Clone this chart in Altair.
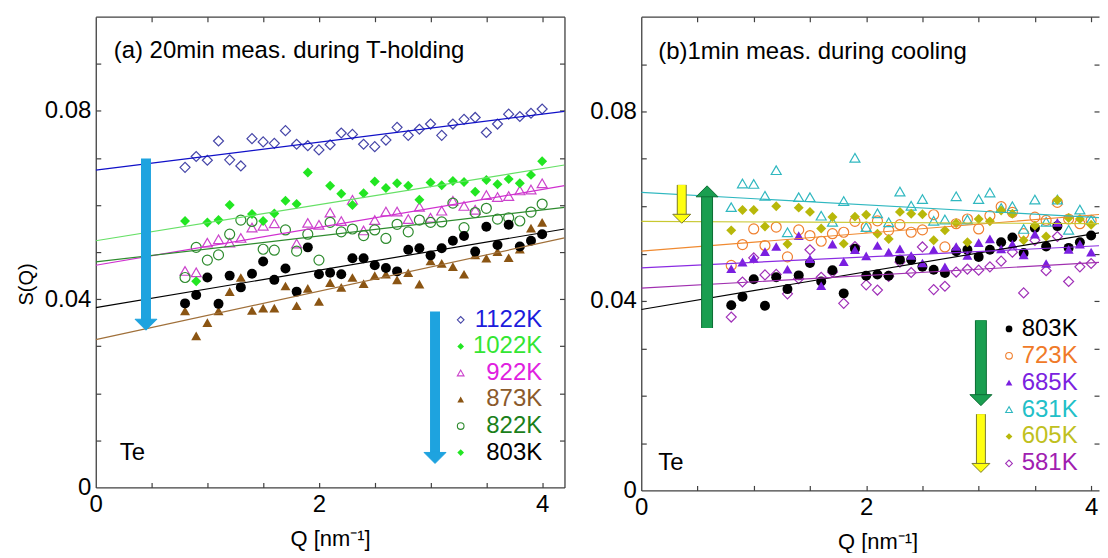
import math
import altair as alt
import pandas as pd

FONT = "Liberation Sans"
AX = "#404040"

# ---------------- data ----------------
Q = [0.8, 0.9, 1.0, 1.1, 1.2, 1.3, 1.4, 1.5, 1.6, 1.7, 1.8, 1.9, 2.0,
     2.1, 2.2, 2.3, 2.4, 2.5, 2.6, 2.7, 2.8, 2.9, 3.0, 3.1, 3.2, 3.3,
     3.4, 3.5, 3.6, 3.7, 3.8, 3.9, 4.0]

s1122 = [0.0680, 0.0703, 0.0695, 0.0736, 0.0696, 0.0683, 0.0741, 0.0734, 0.0731, 0.0758, 0.0729, 0.0726, 0.0717,
         0.0728, 0.0753, 0.0750, 0.0729, 0.0724, 0.0738, 0.0765, 0.0748, 0.0761, 0.0772, 0.0748, 0.0772, 0.0782,
         0.0786, 0.0754, 0.0772, 0.0793, 0.0788, 0.0795, 0.0804]
s1022 = [0.0566, 0.0438, 0.0563, 0.0568, 0.0600, None, 0.0581, 0.0566, 0.0582, 0.0609, 0.0602, 0.0669, None,
         0.0641, 0.0624, 0.0600, 0.0625, 0.0650, 0.0636, 0.0646, 0.0641, 0.0611, 0.0648, 0.0642, 0.0651, 0.0649,
         0.0628, 0.0653, 0.0644, 0.0655, 0.0646, 0.0664, 0.0693]
s922 = [0.0460, 0.0457, 0.0520, 0.0527, 0.0520, 0.0530, 0.0552, 0.0556, 0.0561, None, 0.0518, 0.0562, 0.0558,
        0.0584, 0.0566, 0.0611, 0.0546, 0.0568, 0.0586, 0.0586, 0.0570, 0.0596, 0.0573, 0.0588, 0.0609, 0.0598,
        0.0590, 0.0621, 0.0617, 0.0619, 0.0631, 0.0633, 0.0646]
s873 = [0.0375, 0.0322, 0.0350, 0.0375, 0.0416, 0.0446, 0.0376, 0.0381, 0.0381, 0.0428, 0.0386, 0.0423, 0.0395,
        0.0435, 0.0425, 0.0446, 0.0433, 0.0450, 0.0453, 0.0441, 0.0456, 0.0432, 0.0481, 0.0476, 0.0469, 0.0453,
        0.0494, 0.0487, 0.0501, 0.0488, 0.0506, 0.0551, 0.0563]
s822 = [0.0446, 0.0510, 0.0483, 0.0494, 0.0538, 0.0568, 0.0565, 0.0506, 0.0504, 0.0547, 0.0502, 0.0538, 0.0483,
        0.0563, 0.0543, 0.0549, 0.0535, 0.0547, 0.0529, 0.0559, 0.0543, 0.0568, 0.0563, 0.0564, 0.0604, 0.0552,
        0.0584, 0.0593, 0.0570, 0.0573, 0.0566, 0.0585, 0.0602]
s803 = [0.0391, 0.0409, 0.0446, 0.0390, 0.0450, 0.0425, 0.0454, 0.0480, 0.0441, 0.0465, 0.0416, 0.0510, 0.0453,
        0.0456, 0.0453, 0.0487, 0.0487, 0.0472, 0.0466, 0.0459, 0.0505, 0.0508, 0.0493, 0.0508, 0.0524, 0.0534,
        0.0501, 0.0554, 0.0515, 0.0558, 0.0512, 0.0524, 0.0538]
s723 = [0.0475, 0.0519, 0.0552, 0.0517, 0.0556, 0.0493, 0.0550, 0.0538, 0.0526, 0.0542, 0.0545, 0.0568, 0.0556,
        0.0569, 0.0549, 0.0561, 0.0545, 0.0550, 0.0582, 0.0514, 0.0563, 0.0573, 0.0552, 0.0580, 0.0599, 0.0587,
        0.0542, 0.0577, 0.0570, 0.0608, 0.0573, 0.0563, 0.0570]
s685 = [0.0468, 0.0482, 0.0490, 0.0504, 0.0515, 0.0467, 0.0538, 0.0489, 0.0432, 0.0520, 0.0483, 0.0508, 0.0495,
        0.0517, 0.0503, 0.0510, 0.0496, 0.0480, 0.0508, 0.0472, 0.0515, 0.0496, 0.0523, 0.0531, 0.0510, 0.0520,
        0.0497, 0.0541, 0.0479, 0.0566, 0.0509, 0.0520, 0.0503]
s631 = [0.0598, 0.0648, 0.0647, 0.0622, 0.0676, 0.0545, 0.0619, 0.0619, 0.0580, 0.0567, 0.0611, 0.0702, 0.0556,
        0.0585, 0.0566, 0.0631, 0.0601, 0.0615, 0.0569, 0.0572, 0.0621, 0.0572, 0.0615, 0.0629, 0.0596, 0.0600,
        0.0552, 0.0614, 0.0567, 0.0614, 0.0550, 0.0593, 0.0571]
s605 = [0.0549, 0.0592, 0.0592, 0.0557, 0.0600, 0.0520, 0.0597, 0.0588, 0.0553, 0.0577, 0.0521, 0.0578, 0.0582,
        0.0542, 0.0531, 0.0588, 0.0584, 0.0583, 0.0528, 0.0549, 0.0564, 0.0524, 0.0573, 0.0568, 0.0591, 0.0584,
        0.0528, 0.0559, 0.0536, 0.0613, 0.0575, 0.0573, 0.0561]
s581 = [0.0366, 0.0440, 0.0491, 0.0455, 0.0456, 0.0415, 0.0447, 0.0508, 0.0450, 0.0461, 0.0395, 0.0515, 0.0434,
        0.0423, 0.0452, 0.0482, 0.0460, 0.0514, 0.0424, 0.0431, 0.0461, 0.0467, 0.0465, 0.0472, 0.0484, 0.0503,
        0.0417, 0.0528, 0.0464, 0.0536, 0.0441, 0.0472, 0.0479]

SERIES = {"1122K": s1122, "1022K": s1022, "922K": s922, "873K": s873, "822K": s822, "803K": s803,
          "723K": s723, "685K": s685, "631K": s631, "605K": s605, "581K": s581}

left_names = ["1122K", "1022K", "922K", "873K", "822K", "803K"]
right_names = ["803K", "723K", "685K", "631K", "605K", "581K"]

# fitted straight lines: S(Q) at Q = 0 and at Q = 4.2
fit_q = [0.0, 4.2]
FIT = {"1122K": [0.0674, 0.0799], "1022K": [0.0524, 0.0685], "922K": [0.0472, 0.0641],
       "873K": [0.0314, 0.0530], "822K": [0.0479, 0.0595], "803K": [0.0382, 0.0549],
       "723K": [0.0505, 0.0585], "685K": [0.0470, 0.0518], "631K": [0.0629, 0.0574],
       "605K": [0.0568, 0.0563], "581K": [0.0427, 0.0483]}

# legend symbols (left legend shows a green diamond for 803K, as in the original)
left_legend_sym = ["1122K", "1022K", "922K", "873K", "822K", "1022K"]
right_legend_sym = ["803K", "723K", "685K", "631K", "605K", "581K"]

# arrows: (Q, start, tip)
left_arrows = [(0.45, 0.0699, 0.0334), (3.04, 0.0374, 0.0051)]
right_arrows = [(0.36, 0.0645, 0.0564), (0.585, 0.0343, 0.0643), (3.02, 0.0359, 0.0179), (3.02, 0.0161, 0.0038)]

# ---------------- styles ----------------
MARK = {
    "1122K": ("#4646a8", "diamond", False), "1022K": ("#22e622", "diamond", True),
    "922K": ("#cc44cc", "triangle-up", False), "873K": ("#8b5513", "triangle-up", True),
    "822K": ("#2e8b2e", "circle", False), "803K": ("#000000", "circle", True),
    "723K": ("#f08030", "circle", False), "685K": ("#7a1fe0", "triangle-up", True),
    "631K": ("#30b8c0", "triangle-up", False), "605K": ("#b8b80a", "diamond", True),
    "581K": ("#a030b8", "diamond", False),
}
LINE = {"1122K": "#1010c8", "1022K": "#66e066", "922K": "#d030d0", "873K": "#a0703a", "822K": "#2e8b2e",
        "803K": "#000000", "723K": "#f08a30", "685K": "#8a2be2", "631K": "#30b8c0", "605K": "#c8c830",
        "581K": "#a030b0"}
TXT = {"1122K": "#1c1cdc", "1022K": "#33e633", "922K": "#e020e0", "873K": "#8b5a2b", "822K": "#1a801a",
       "803K": "#000000", "723K": "#f07a28", "685K": "#7b22e0", "631K": "#22c0c8", "605K": "#c0c020",
       "581K": "#a020b0"}
ARROW_STYLE_LEFT = [("#1ea3df", "#1ea3df", 10, 22)] * 2
ARROW_STYLE_RIGHT = [("#ffff10", "#7a7a30", 8, 18), ("#1a9e50", "#0e6e36", 10, 22),
                     ("#1a9e50", "#0e6e36", 10, 22), ("#ffff10", "#7a7a30", 8, 18)]

XTICKS = [0.5, 1.0, 1.5, 2.0, 2.5, 3.0, 3.5, 4.0]
YTICKS = [0.01, 0.02, 0.03, 0.04, 0.05, 0.06, 0.07, 0.08, 0.09]
FS = 24


def tick_axis(orient, offset, values, domain):
    return alt.Axis(orient=orient, offset=offset, values=values, labels=False, title=None,
                    ticks=True, tickSize=5, tickColor=AX, tickWidth=1.2, domain=domain,
                    domainColor=AX, domainWidth=1.3, grid=False)


def build_panel(names, legend_sym, arrows, arrow_styles, W, H, xmax, title_text, title_xy, te_xy,
                ytitle, xtitle_x, right_border, leg_qsym, leg_qtxt, leg_y0, leg_step):
    xs = alt.Scale(domain=[0, xmax], nice=False, zero=False)
    ys = alt.Scale(domain=[0, 0.1], nice=False, zero=False)
    cscale = alt.Scale(domain=names, range=[MARK[n][0] for n in names])
    sscale = alt.Scale(domain=names, range=[MARK[n][1] for n in names])
    lscale = alt.Scale(domain=names, range=[LINE[n] for n in names])
    ppu = H / 0.1

    rows = []
    for n in names:
        for q, s in zip(Q, SERIES[n]):
            if s is not None:
                rows.append({"series": n, "Q": q, "S": s, "filled": MARK[n][2]})
    pts = pd.DataFrame(rows)

    ax_x_main = alt.Axis(orient="bottom", values=[0, 2, 4], format=".0f", ticks=False, tickSize=0,
                         domain=True, domainColor=AX, domainWidth=1.3, labelFont=FONT, labelFontSize=FS,
                         labelColor="black", labelPadding=5, labelFlush=False, grid=False,
                         title="Q [nm⁻¹]", titleFont=FONT, titleFontSize=22, titleFontWeight="normal",
                         titleColor="black", titlePadding=12, titleX=xtitle_x)
    ykw = dict(orient="left", values=[0, 0.04, 0.08],
               labelExpr="datum.value == 0 ? '0' : format(datum.value, '.2f')",
               ticks=False, tickSize=0, domain=True, domainColor=AX, domainWidth=1.3, labelFont=FONT,
               labelFontSize=FS, labelColor="black", labelPadding=5, labelFlush=False, grid=False)
    if ytitle:
        ax_y_main = alt.Axis(title=ytitle, titleFont=FONT, titleFontSize=20, titleFontWeight="normal",
                             titleColor="black", titlePadding=8, titleY=268, **ykw)
    else:
        ax_y_main = alt.Axis(title=None, **ykw)

    layers = []
    dummy = pd.DataFrame({"Q": [0.0], "S": [0.0]})
    # inward ticks on bottom & left
    layers.append(alt.Chart(dummy).mark_point(opacity=0).encode(
        x=alt.X("Q:Q", scale=xs, axis=tick_axis("top", -H, XTICKS, False)),
        y=alt.Y("S:Q", scale=ys, axis=tick_axis("right", -W, YTICKS, False))))
    # top border / right border with inward ticks
    layers.append(alt.Chart(dummy).mark_point(opacity=0).encode(
        x=alt.X("Q:Q", scale=xs, axis=tick_axis("bottom", -H, XTICKS, True)),
        y=alt.Y("S:Q", scale=ys, axis=tick_axis("left", -W, YTICKS, right_border))))

    first = True
    for filled in (False, True):
        sub = pts[pts["filled"] == filled]
        if filled:
            mk = alt.Chart(sub).mark_point(filled=True, size=100, opacity=1)
        else:
            mk = alt.Chart(sub).mark_point(filled=False, size=100, strokeWidth=1.2, opacity=1)
        layers.append(mk.encode(
            x=alt.X("Q:Q", scale=xs, axis=ax_x_main if first else None),
            y=alt.Y("S:Q", scale=ys, axis=ax_y_main if first else None),
            color=alt.Color("series:N", scale=cscale, legend=None),
            shape=alt.Shape("series:N", scale=sscale, legend=None)))
        first = False

    lrows = []
    for n in names:
        for q, s in zip(fit_q, FIT[n]):
            lrows.append({"series": n, "Q": q, "S": s})
    layers.append(alt.Chart(pd.DataFrame(lrows)).mark_line(strokeWidth=1.2, clip=True).encode(
        x=alt.X("Q:Q", scale=xs, axis=None), y=alt.Y("S:Q", scale=ys, axis=None),
        stroke=alt.Stroke("series:N", scale=lscale, legend=None), detail="series:N"))

    # arrows
    for (q, start, tip), (fill, edge, sw, hw) in zip(arrows, arrow_styles):
        down = tip < start
        hs = hw * hw
        dy = 0.55 * (hw / 2.0) / ppu
        shaft_end = tip + dy if down else tip - dy
        adf = pd.DataFrame({"Q": [q], "a": [start], "b": [shaft_end], "tip": [tip]})
        base = alt.Chart(adf)
        if edge != fill:
            layers.append(base.mark_rule(strokeWidth=sw + 2, color=edge).encode(
                x=alt.X("Q:Q", scale=xs, axis=None), y=alt.Y("a:Q", scale=ys, axis=None), y2="b:Q"))
        layers.append(base.mark_rule(strokeWidth=sw, color=fill).encode(
            x=alt.X("Q:Q", scale=xs, axis=None), y=alt.Y("a:Q", scale=ys, axis=None), y2="b:Q"))
        shape = "M-1,-1L1,-1L0,0Z" if down else "M-1,1L1,1L0,0Z"
        layers.append(base.mark_point(shape=shape, size=hs, filled=True, fill=fill, stroke=edge,
                                      strokeWidth=1, opacity=1).encode(
            x=alt.X("Q:Q", scale=xs, axis=None), y=alt.Y("tip:Q", scale=ys, axis=None)))

    # legend
    legrows = []
    for i, (n, sym) in enumerate(zip(names, legend_sym)):
        legrows.append({"label": n, "sym": sym, "filled": MARK[sym][2], "tcol": TXT[n],
                        "ly": leg_y0 - i * leg_step, "qs": leg_qsym, "qt": leg_qtxt})
    leg = pd.DataFrame(legrows)
    for filled in (False, True):
        sub = leg[leg["filled"] == filled]
        mk = alt.Chart(sub).mark_point(filled=filled, size=45, strokeWidth=1.1, opacity=1)
        layers.append(mk.encode(
            x=alt.X("qs:Q", scale=xs, axis=None), y=alt.Y("ly:Q", scale=ys, axis=None),
            color=alt.Color("sym:N", scale=cscale, legend=None),
            shape=alt.Shape("sym:N", scale=sscale, legend=None)))
    layers.append(alt.Chart(leg).mark_text(align="right", baseline="middle", font=FONT, fontSize=FS).encode(
        x=alt.X("qt:Q", scale=xs, axis=None), y=alt.Y("ly:Q", scale=ys, axis=None),
        text="label:N", fill=alt.Fill("tcol:N", scale=None, legend=None)))

    # annotations
    layers.append(alt.Chart(pd.DataFrame({"t": [title_text]})).mark_text(
        align="left", baseline="middle", font=FONT, fontSize=FS, color="black").encode(
        x=alt.value(title_xy[0]), y=alt.value(title_xy[1]), text="t:N"))
    layers.append(alt.Chart(pd.DataFrame({"t": ["Te"]})).mark_text(
        align="left", baseline="middle", font=FONT, fontSize=FS, color="black").encode(
        x=alt.value(te_xy[0]), y=alt.value(te_xy[1]), text="t:N"))

    return alt.layer(*layers).resolve_axis(x="independent", y="independent").properties(width=W, height=H)


left = build_panel(left_names, left_legend_sym, left_arrows, ARROW_STYLE_LEFT, 470, 472, 4.2,
                   "(a) 20min meas. during T-holding", (18, 34), (24, 437), "S(Q)", 235, True,
                   3.27, 4.0, 0.0356, 0.00564)
right = build_panel(right_names, right_legend_sym, right_arrows, ARROW_STYLE_RIGHT, 459, 475, 4.07,
                    "(b)1min meas. during cooling", (17, 35), (17, 448), None, 237, False,
                    3.27, 3.88, 0.0341, 0.00568)

chart = alt.hconcat(left, right, spacing=24).resolve_scale(
    x="independent", y="independent", color="independent", shape="independent", stroke="independent"
).properties(padding={"left": 8, "top": 7, "right": 0, "bottom": 0}).configure_view(stroke=None)

chart.save("out.html", embed_options={"renderer": "svg", "actions": False})
